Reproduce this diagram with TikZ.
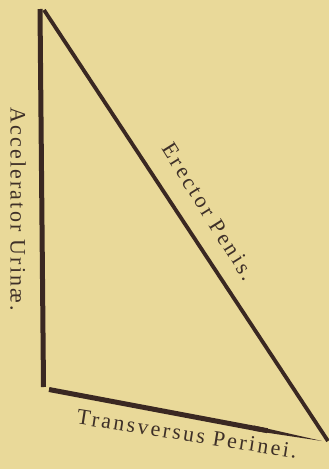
\documentclass[tikz,border=0pt]{standalone}
\usepackage{fontspec}
\setmainfont{Liberation Serif}
\usetikzlibrary{calc}
\definecolor{paper}{RGB}{233,217,153}
\definecolor{ink}{RGB}{58,40,34}
\definecolor{txt}{RGB}{62,48,40}
\begin{document}
\begin{tikzpicture}[x=1pt,y=-1pt,
  muscle/.style={draw=ink,line cap=butt},
  lab/.style={text=txt,inner sep=0pt,font=\fontsize{22}{22}\selectfont}]
\fill[paper] (0,0) rectangle (329,469);
\useasboundingbox (0,0) rectangle (329,469);
\coordinate (lt) at (40,9);
\coordinate (lb) at (43.5,387);
\coordinate (ht) at (44,10);
\coordinate (hb) at (328,441);
\coordinate (bl) at (49,389.5);
\coordinate (br) at (322,441);
\draw[muscle,line width=5pt] (lt) -- (lb);
\draw[muscle,line width=3.8pt] (ht) -- (hb);
\draw[muscle,line width=5pt] (bl) -- ($(bl)!0.8!(br)$);
\fill[ink] ($(bl)!0.75!(br)+(0.5,-2.5)$) -- (br) -- ($(bl)!0.75!(br)+(-0.5,2.5)$) -- cycle;
\node[lab,rotate=-90] (acc) at (18,209) {\addfontfeature{LetterSpace=10}Accelerator Urinæ.};
\node[lab,rotate=-58] (ere) at (209,212) {\addfontfeature{LetterSpace=13}Erector Penis.};
\node[lab,rotate=-9] (tra) at (187,434) {\addfontfeature{LetterSpace=11}Transversus Perinei.};
\end{tikzpicture}
\end{document}
